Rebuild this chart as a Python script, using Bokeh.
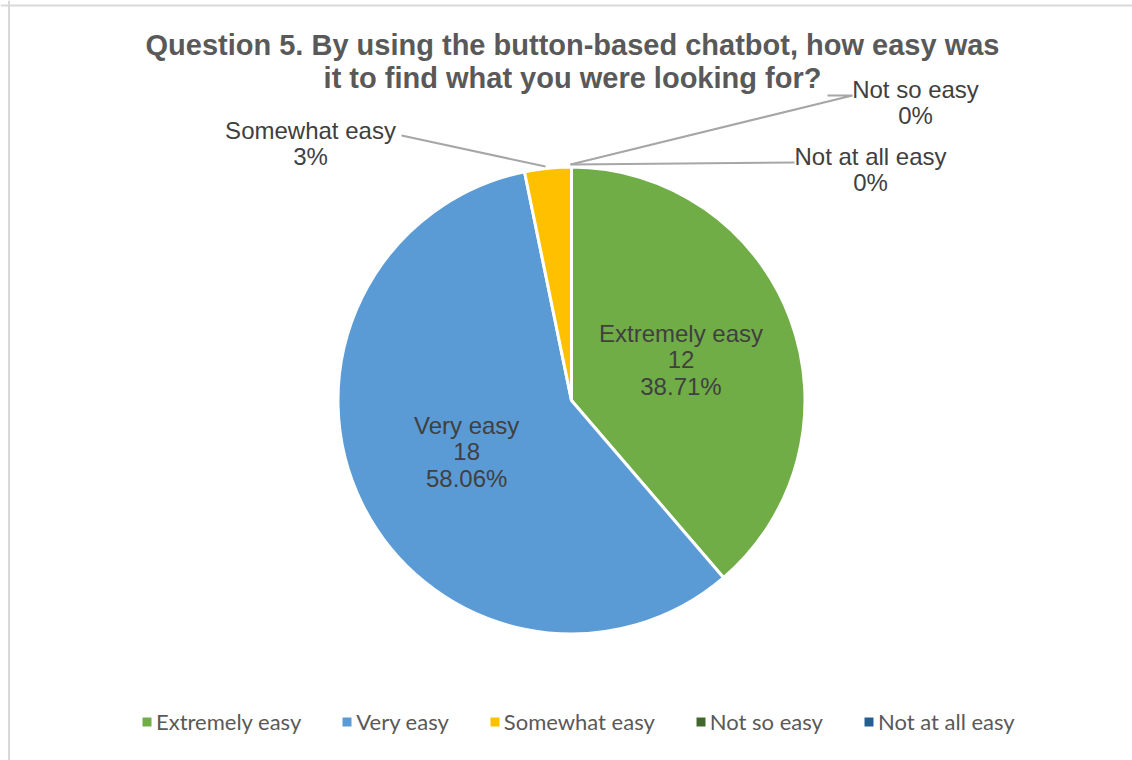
import math
from bokeh.plotting import figure
from bokeh.models import Range1d, Legend, LegendItem, ColumnDataSource, Span
from bokeh.core.properties import value
from bokeh.embed import file_html
from bokeh.resources import INLINE

# ---- data ----
categories = ["Extremely easy", "Very easy", "Somewhat easy", "Not so easy", "Not at all easy"]
counts = [12, 18, 1, 0, 0]
colors = ["#70AD47", "#5B9BD5", "#FFC000", "#43682B", "#255E91"]
title_lines = ["Question 5. By using the button-based chatbot, how easy was",
               "it to find what you were looking for?"]

# ---- layout ----
W, H = 1132, 760
CX, CY, R = 571, 400, 233.5          # page-style coordinates (y down)
outside_layout = {
    "Somewhat easy": dict(text=(310, 143), leader=[(401, 135), (545, 166)]),
    "Not so easy": dict(text=(915, 102), leader=[(827, 95), (852, 95), (570, 164)]),
    "Not at all easy": dict(text=(870, 169), leader=[(794, 162), (570, 164)]),
}

def py(y):
    return H - y

total = sum(counts)
starts, ends = [], []
acc = 0.0
for c in counts:
    a0 = math.pi / 2 - 2 * math.pi * acc / total
    acc += c
    a1 = math.pi / 2 - 2 * math.pi * acc / total
    starts.append(a0)
    ends.append(a1)

p = figure(width=W, height=H, output_backend="svg", toolbar_location=None,
           x_range=Range1d(0, W), y_range=Range1d(0, H), min_border=0)
p.axis.visible = False
p.grid.visible = False
p.outline_line_color = None
p.background_fill_color = "white"
p.border_fill_color = "white"

src = ColumnDataSource(dict(cat=categories, start=starts, end=ends, color=colors,
                            x=[CX] * 5, y=[py(CY)] * 5,
                            r=[R if c > 0 else 0 for c in counts]))
wr = p.wedge(x="x", y="y", radius="r", start_angle="start", end_angle="end", direction="clock",
             fill_color="color", line_color="white", line_width=3, source=src)

# inside labels
in_x, in_y, in_t = [], [], []
for cat, c, a0, a1 in zip(categories, counts, starts, ends):
    pct = 100.0 * c / total
    if pct >= 10:
        mid = (a0 + a1) / 2
        in_x.append(CX + 0.5 * R * math.cos(mid))
        in_y.append(py(CY) + 0.5 * R * math.sin(mid))
        in_t.append(f"{cat}\n{c}\n{pct:.2f}%")
p.text(x=in_x, y=in_y, text=in_t, text_align="center", text_baseline="middle",
       text_font=value("Liberation Sans"), text_font_size="24px", text_color="#404040",
       text_line_height=0.98)

# outside labels
ox, oy, ot, lx, ly = [], [], [], [], []
for cat, c in zip(categories, counts):
    if cat in outside_layout:
        lay = outside_layout[cat]
        pct = 100.0 * c / total
        ox.append(lay["text"][0])
        oy.append(py(lay["text"][1]))
        ot.append(f"{cat}\n{pct:.0f}%")
        lx.append([a for a, b in lay["leader"]])
        ly.append([py(b) for a, b in lay["leader"]])
p.multi_line(xs=lx, ys=ly, line_color="#A6A6A6", line_width=2)
p.text(x=ox, y=oy, text=ot, text_align="center", text_baseline="middle",
       text_font=value("Liberation Sans"), text_font_size="24px", text_color="#404040",
       text_line_height=0.98)

# title
p.text(x=[572], y=[py(61)], text=["\n".join(title_lines)], text_align="center",
       text_baseline="middle", text_font=value("Liberation Sans"), text_font_style="bold",
       text_font_size="29px", text_color="#595959", text_line_height=1.05)

# border (left / top)
p.add_layout(Span(location=8.5, dimension="height", line_color="#D9D9D9", line_width=2))
p.add_layout(Span(location=py(5), dimension="width", line_color="#D9D9D9", line_width=2))

legend = Legend(items=[LegendItem(label=cat, renderers=[wr], index=i) for i, cat in enumerate(categories)],
                orientation="horizontal", location=(139, 25), padding=0, margin=0,
                glyph_width=15, glyph_height=15, label_standoff=2, spacing=38, label_height=20,
                label_text_font="Lato", label_text_font_size="22px", label_text_color="#595959",
                background_fill_alpha=0, border_line_color=None)
p.add_layout(legend)

open("out.html", "w").write(file_html(p, INLINE))
